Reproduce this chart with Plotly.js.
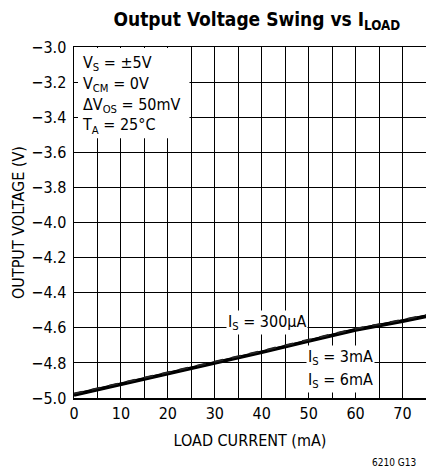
<!DOCTYPE html>
<html>
<head>
<meta charset="utf-8">
<script src="https://cdn.plot.ly/plotly-3.0.1.min.js"></script>
<style>html,body{margin:0;padding:0;background:#fff;}#chart{width:426px;height:472px;}</style>
</head>
<body>
<div id="chart"></div>
<script>
const loadCurrent = [0, 10, 20, 30, 40, 50, 60, 70, 75];
const vIs300uA = [-4.975, -4.915, -4.855, -4.793, -4.732, -4.668, -4.605, -4.555, -4.527];
const vIs3mA   = [-4.980, -4.920, -4.860, -4.798, -4.737, -4.673, -4.610, -4.560, -4.532];
const vIs6mA   = [-4.983, -4.923, -4.863, -4.801, -4.740, -4.676, -4.613, -4.563, -4.535];
const xTickVals = [0, 10, 20, 30, 40, 50, 60, 70];
const xTickText = ["0", "10", "20", "30", "40", "50", "60", "70"];
const yTickVals = [-3.0,-3.2,-3.4,-3.6,-3.8,-4.0,-4.2,-4.4,-4.6,-4.8,-5.0];
const yTickText = ["−3.0","−3.2","−3.4","−3.6","−3.8","−4.0","−4.2","−4.4","−4.6","−4.8","−5.0"];

const FONT = '"DejaVu Sans Condensed", "Liberation Sans Narrow", Arial, sans-serif';

const traces = [
  {x: loadCurrent, y: vIs6mA, mode: 'lines', line: {color: '#000', width: 3.5}},
  {x: loadCurrent, y: vIs3mA, mode: 'lines', line: {color: '#000', width: 3}},
  {x: loadCurrent, y: vIs300uA, mode: 'lines', line: {color: '#222', width: 2, dash: 'dash'}}
];

const layout = {
  width: 426, height: 472,
  margin: {l: 74, r: 0, t: 47, b: 74},
  showlegend: false,
  paper_bgcolor: '#fff', plot_bgcolor: '#fff',
  font: {family: FONT, size: 15, color: '#000'},
  title: {text: '<b>Output Voltage Swing vs I<sub>LOAD</sub></b>', x: 0.603, xanchor: 'center', y: 0.96, yanchor: 'middle',
          font: {family: FONT, size: 19, color: '#000'}},
  xaxis: {range: [0, 75], tickmode: 'array', tickvals: xTickVals, ticktext: xTickText,
          showgrid: true, gridcolor: '#000', gridwidth: 1, zeroline: false,
          minor: {dtick: 5, tick0: 0, showgrid: true, gridcolor: '#000', gridwidth: 1, ticks: ''},
          showline: true, linecolor: '#000', linewidth: 1.5, mirror: true,
          ticks: '', tickfont: {family: FONT, size: 16},
          title: {text: 'LOAD CURRENT (mA)', font: {family: FONT, size: 16}, standoff: 13}},
  yaxis: {range: [-5.0, -3.0], tickmode: 'array', tickvals: yTickVals, ticktext: yTickText,
          showgrid: true, gridcolor: '#000', gridwidth: 1, zeroline: false,
          showline: true, linecolor: '#000', linewidth: 1.5, mirror: true,
          ticks: 'inside', ticklen: 4, tickcolor: '#000', tickfont: {family: FONT, size: 16},
          ticklabelstandoff: 3,
          title: {text: 'OUTPUT VOLTAGE (V)', font: {family: FONT, size: 16}, standoff: 2}},
  shapes: [
    {type: 'rect', xref: 'x', yref: 'y', x0: 0.25, x1: 24.6, y0: -3.52, y1: -3.005,
     fillcolor: '#fff', line: {width: 0}, layer: 'between'}
  ],
  annotations: [
    {xref: 'paper', yref: 'paper', x: 0.018, y: 0.99, xanchor: 'left', yanchor: 'top', align: 'left', showarrow: false,
     text: 'V<sub>S</sub> = ±5V<br>V<sub>CM</sub> = 0V<br>ΔV<sub>OS</sub> = 50mV<br>T<sub>A</sub> = 25°C',
     font: {family: FONT, size: 16}},
    {xref: 'x', yref: 'y', x: 41.1, y: -4.57, xanchor: 'center', yanchor: 'middle', showarrow: false,
     text: 'I<sub>S</sub> = 300µA', bgcolor: '#fff', font: {family: FONT, size: 16}},
    {xref: 'x', yref: 'y', x: 56.7, y: -4.77, xanchor: 'center', yanchor: 'middle', showarrow: false,
     text: 'I<sub>S</sub> = 3mA', bgcolor: '#fff', font: {family: FONT, size: 16}},
    {xref: 'x', yref: 'y', x: 56.7, y: -4.90, xanchor: 'center', yanchor: 'middle', showarrow: false,
     text: 'I<sub>S</sub> = 6mA', bgcolor: '#fff', font: {family: FONT, size: 16}},
    {xref: 'paper', yref: 'paper', x: 0.976, y: -0.185, xanchor: 'right', yanchor: 'middle', showarrow: false,
     text: '6210 G13', font: {family: FONT, size: 10}}
  ]
};

Plotly.newPlot('chart', traces, layout, {displayModeBar: false, staticPlot: true});
</script>
</body>
</html>
